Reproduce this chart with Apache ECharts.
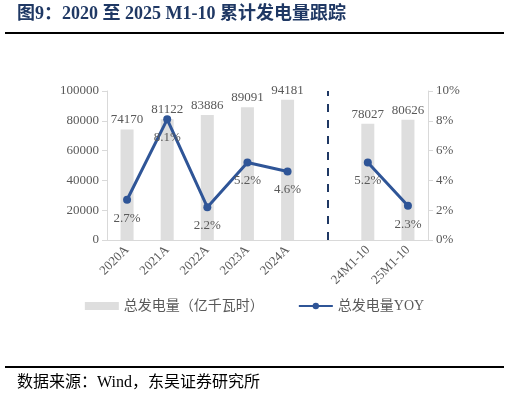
<!DOCTYPE html>
<html><head><meta charset="utf-8">
<script src="https://cdn.jsdelivr.net/npm/echarts@6/dist/echarts.min.js"></script>
<style>html,body{margin:0;padding:0;background:#fff}#c{width:509px;height:401px}</style>
</head><body><div id="c"></div>
<script>
const categories = ['2020A', '2021A', '2022A', '2023A', '2024A', ' ', '24M1-10', '25M1-10']
const generation = [74170, 81122, 83886, 89091, 94181, null, 78027, 80626]
const yoy = [2.7, 8.1, 2.2, 5.2, 4.6, null, 5.2, 2.3]

const font = '"Liberation Serif", "Noto Sans CJK SC", serif'
const axisGray = '#d9d9d9'
const textGray = '#595959'

const chart = echarts.init(document.getElementById('c'))
chart.setOption({
    animation: false,
    textStyle: { fontFamily: font },
    graphic: [
        { type: 'text', left: 17, top: 5, style: { text: '图9：2020 至 2025 M1-10 累计发电量跟踪', font: 'bold 18px ' + font, fill: '#1f3864' } },
        { type: 'rect', shape: { x: 5, y: 32, width: 499, height: 2 }, style: { fill: '#000' } },
        { type: 'rect', shape: { x: 5, y: 366, width: 499, height: 2 }, style: { fill: '#000' } },
        { type: 'text', left: 17, top: 375, style: { text: '数据来源：Wind，东吴证券研究所', font: '16px ' + font, fill: '#000' } }
    ],
    legend: {
        bottom: 83, left: 'center', itemGap: 34, itemWidth: 34, itemHeight: 8,
        textStyle: { color: textGray, fontSize: 14, fontFamily: font },
        data: [
            { name: '总发电量（亿千瓦时）', icon: 'rect' },
            { name: '总发电量YOY' }
        ]
    },
    grid: { left: 107, right: 81, top: 91, bottom: 161 },
    xAxis: {
        type: 'category', data: categories,
        axisLine: { lineStyle: { color: axisGray } },
        axisTick: { lineStyle: { color: axisGray } },
        axisLabel: { rotate: 45, color: textGray, fontSize: 13, interval: 0 }
    },
    yAxis: [
        {
            type: 'value', min: 0, max: 100000, interval: 20000,
            axisLine: { show: true, lineStyle: { color: axisGray } },
            axisTick: { show: true, lineStyle: { color: axisGray } },
            splitLine: { show: false },
            axisLabel: { color: textGray, fontSize: 13, formatter: v => String(v) }
        },
        {
            type: 'value', min: 0, max: 10, interval: 2,
            axisLine: { show: true, lineStyle: { color: axisGray } },
            axisTick: { show: true, lineStyle: { color: axisGray } },
            splitLine: { show: false },
            axisLabel: { color: textGray, fontSize: 13, formatter: '{value}%' }
        }
    ],
    series: [
        {
            name: '总发电量（亿千瓦时）', type: 'bar', data: generation, barWidth: 13,
            itemStyle: { color: '#dedede' },
            label: { show: true, position: 'top', color: textGray, fontSize: 13, distance: 3 },
            markLine: {
                symbol: 'none', silent: true, label: { show: false },
                lineStyle: { type: [8, 8], color: '#1f3864', width: 2 },
                data: [{ xAxis: ' ' }]
            }
        },
        {
            name: '总发电量YOY', type: 'line', yAxisIndex: 1, data: yoy,
            symbol: 'circle', symbolSize: 8,
            lineStyle: { color: '#2f5597', width: 3 },
            itemStyle: { color: '#2f5597' },
            label: { show: true, position: 'bottom', distance: 8, color: textGray, fontSize: 13, formatter: p => p.value.toFixed(1) + '%' }
        }
    ]
})
</script></body></html>
